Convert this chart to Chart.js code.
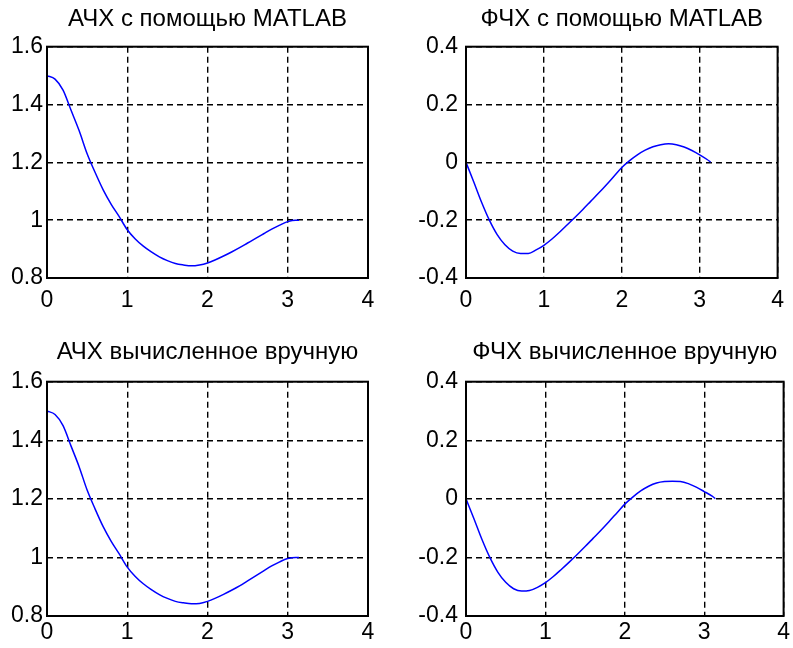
<!DOCTYPE html>
<html>
<head>
<meta charset="utf-8">
<script src="https://cdn.jsdelivr.net/npm/chart.js@4/dist/chart.umd.min.js"></script>
<style>
    body { margin: 0; background: #fff; }
    #wrap { position: relative; width: 793px; height: 648px; overflow: hidden; }
    canvas { position: absolute; }
</style>
</head>
<body>
<div id="wrap">
    <canvas id="ampTop" width="396" height="320" style="left:0;top:0"></canvas>
    <canvas id="phaseTop" width="393" height="320" style="left:400px;top:0"></canvas>
    <canvas id="ampBottom" width="396" height="328" style="left:0;top:320px"></canvas>
    <canvas id="phaseBottom" width="393" height="328" style="left:400px;top:320px"></canvas>
</div>
<script>
// frequency, rad/sample (0 .. pi)
const freq = [0, 0.1, 0.2, 0.3, 0.4, 0.5, 0.6, 0.7, 0.8, 0.9, 1.0, 1.1, 1.2, 1.3, 1.4, 1.5,
    1.6, 1.7, 1.8, 1.9, 2.0, 2.1, 2.2, 2.3, 2.4, 2.5, 2.6, 2.7, 2.8, 2.9, 3.0, 3.1, 3.14];

// АЧХ (MATLAB)
const ampMatlab = [1.5, 1.488, 1.45, 1.38, 1.31, 1.23, 1.165, 1.105, 1.055, 1.012, 0.967, 0.935, 0.91,
    0.89, 0.873, 0.86, 0.85, 0.845, 0.842, 0.845, 0.852, 0.863, 0.876, 0.89, 0.905, 0.921,
    0.937, 0.953, 0.969, 0.983, 0.995, 1.0, 1.0];
// ФЧХ (MATLAB)
const phaseMatlab = [0, -0.068, -0.138, -0.2, -0.25, -0.285, -0.307, -0.315, -0.315, -0.303, -0.287,
    -0.266, -0.242, -0.216, -0.19, -0.163, -0.135, -0.107, -0.078, -0.048, -0.018, 0.006,
    0.026, 0.042, 0.054, 0.061, 0.064, 0.061, 0.053, 0.041, 0.026, 0.009, 0.001];

// computed manually
const ampManual = [1.5, 1.488, 1.45, 1.38, 1.31, 1.23, 1.165, 1.105, 1.055, 1.012, 0.967, 0.935, 0.91,
    0.89, 0.873, 0.86, 0.85, 0.845, 0.842, 0.843, 0.85, 0.861, 0.874, 0.888, 0.903, 0.92,
    0.937, 0.954, 0.971, 0.985, 0.996, 1.0, 1.0];
const phaseManual = [0, -0.068, -0.138, -0.2, -0.25, -0.285, -0.307, -0.315, -0.313, -0.302, -0.286,
    -0.265, -0.241, -0.216, -0.19, -0.163, -0.135, -0.107, -0.078, -0.048, -0.018, 0.006,
    0.027, 0.043, 0.054, 0.059, 0.06, 0.059, 0.052, 0.04, 0.025, 0.009, 0.001];

const xTicks = [0, 1, 2, 3, 4];
const ampTicks = [0.8, 1, 1.2, 1.4, 1.6];
const phaseTicks = [-0.4, -0.2, 0, 0.2, 0.4];

const font = 'Arial, "Liberation Sans", sans-serif';

// MATLAB style box around the axes
const boxPlugin = {
    id: 'box',
    afterDraw(chart) {
        const a = chart.chartArea;
        const c = chart.ctx;
        c.save();
        c.strokeStyle = '#000';
        c.lineWidth = 2;
        c.strokeRect(a.left, a.top, a.right - a.left, a.bottom - a.top);
        c.restore();
    }
};

// 1.0 -> "1", 0.80 -> "0.8"
const fmt = (v) => String(Number(Number(v).toFixed(2)));

function makeChart(id, title, values, yTicks, box) {
    const ctx = document.getElementById(id).getContext('2d');
    return new Chart(ctx, {
        type: 'line',
        data: {
            datasets: [{
                data: freq.map((f, i) => ({ x: f, y: values[i] })),
                borderColor: '#0000ff',
                borderWidth: 1.5,
                pointRadius: 0,
                cubicInterpolationMode: 'monotone',
                fill: false
            }]
        },
        options: {
            responsive: false,
            animation: false,
            events: [],
            layout: {
                padding: { left: 0, right: box.padRight, top: 0, bottom: 0 }
            },
            scales: {
                x: {
                    type: 'linear',
                    min: xTicks[0],
                    max: xTicks[xTicks.length - 1],
                    afterBuildTicks: (s) => { s.ticks = xTicks.map(v => ({ value: v })); },
                    afterFit: (s) => { s.height = box.xHeight; },
                    grid: { color: '#000', lineWidth: 1.4, drawTicks: false },
                    border: { display: false, dash: [6, 4] },
                    ticks: {
                        color: '#000',
                        padding: box.xPad,
                        maxRotation: 0,
                        callback: fmt,
                        font: { family: font, size: 23 }
                    }
                },
                y: {
                    min: yTicks[0],
                    max: yTicks[yTicks.length - 1],
                    afterBuildTicks: (s) => { s.ticks = yTicks.map(v => ({ value: v })); },
                    afterFit: (s) => { s.width = box.yWidth; },
                    grid: { color: '#000', lineWidth: 1.4, drawTicks: false },
                    border: { display: false, dash: [6, 4] },
                    ticks: {
                        color: '#000',
                        padding: box.yPad,
                        callback: fmt,
                        font: { family: font, size: 23 }
                    }
                }
            },
            plugins: {
                legend: { display: false },
                tooltip: { enabled: false },
                title: {
                    display: true,
                    text: title,
                    color: '#000',
                    fullSize: false,
                    font: { family: font, size: 24, weight: 'normal', lineHeight: 1.1 },
                    padding: { top: box.titleTop, bottom: box.titleBottom }
                }
            }
        },
        plugins: [boxPlugin]
    });
}

makeChart('ampTop', 'АЧХ с помощью MATLAB', ampMatlab, ampTicks,
    { padRight: 28, xHeight: 42, xPad: 9, yWidth: 47, yPad: 4, titleTop: 6.5, titleBottom: 13.8 });
makeChart('phaseTop', 'ФЧХ с помощью MATLAB', phaseMatlab, phaseTicks,
    { padRight: 6, xHeight: 42, xPad: 9, yWidth: 66, yPad: 8, titleTop: 6.5, titleBottom: 13.8 });
makeChart('ampBottom', 'АЧХ вычисленное вручную', ampManual, ampTicks,
    { padRight: 28, xHeight: 32, xPad: 3, yWidth: 47, yPad: 4, titleTop: 19.5, titleBottom: 15.8 });
makeChart('phaseBottom', 'ФЧХ вычисленное вручную', phaseManual, phaseTicks,
    { padRight: 6, xHeight: 32, xPad: 3, yWidth: 66, yPad: 8, titleTop: 19.5, titleBottom: 15.8 });
</script>
</body>
</html>
